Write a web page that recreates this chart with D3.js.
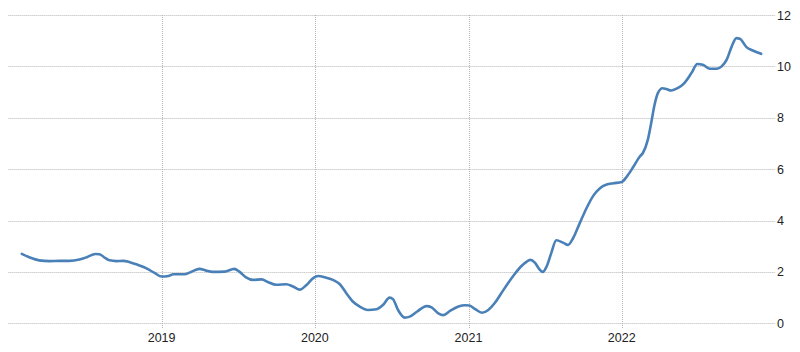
<!DOCTYPE html>
<html>
<head>
<meta charset="utf-8">
<script src="https://cdn.jsdelivr.net/npm/d3@7"></script>
<style>
  html, body { margin: 0; padding: 0; background: #fff; }
  svg { display: block; }
</style>
</head>
<body>
<svg id="chart" width="800" height="352"></svg>
<script>
const dates = [
  "2018-02-02","2018-02-21","2018-03-15","2018-04-09","2018-05-02","2018-05-26","2018-06-19","2018-07-08",
  "2018-07-27","2018-08-06","2018-08-18","2018-08-30","2018-09-15","2018-10-01","2018-10-17","2018-11-06",
  "2018-11-26","2018-12-16","2019-01-01","2019-01-17","2019-01-29","2019-02-24","2019-03-12","2019-04-01",
  "2019-04-17","2019-05-02","2019-05-31","2019-06-23","2019-07-05","2019-07-21","2019-08-06","2019-08-27",
  "2019-09-11","2019-10-01","2019-10-25","2019-11-10","2019-11-26","2019-12-12","2019-12-28","2020-01-09",
  "2020-01-25","2020-02-13","2020-02-29","2020-03-16","2020-04-01","2020-04-17","2020-05-06","2020-05-27",
  "2020-06-11","2020-06-27","2020-07-05","2020-07-17","2020-08-02","2020-08-14","2020-08-31","2020-09-23",
  "2020-10-05","2020-10-21","2020-11-02","2020-11-18","2020-12-08","2020-12-24","2021-01-03","2021-01-17",
  "2021-02-02","2021-02-17","2021-03-04","2021-03-20","2021-04-05","2021-04-21","2021-05-06","2021-05-18",
  "2021-05-28","2021-06-08","2021-06-19","2021-06-27","2021-07-06","2021-07-17","2021-07-29","2021-08-14",
  "2021-08-26","2021-09-07","2021-09-23","2021-10-09","2021-10-25","2021-11-10","2021-11-26","2021-12-12",
  "2022-01-01","2022-01-13","2022-01-29","2022-02-13","2022-02-20","2022-03-04","2022-03-12","2022-03-20",
  "2022-03-28","2022-04-08","2022-04-17","2022-04-29","2022-05-14","2022-05-30","2022-06-16","2022-06-30",
  "2022-07-13","2022-07-30","2022-08-15","2022-08-27","2022-09-08","2022-09-20","2022-10-01","2022-10-09",
  "2022-10-25","2022-11-09","2022-11-29"
];
const values = [
  2.70,2.56,2.45,2.42,2.43,2.43,2.48,2.58,
  2.70,2.69,2.56,2.45,2.42,2.43,2.38,2.27,
  2.14,1.95,1.82,1.84,1.91,1.91,2.00,2.12,
  2.05,2.00,2.01,2.12,2.01,1.79,1.69,1.71,
  1.61,1.50,1.52,1.43,1.31,1.49,1.76,1.84,
  1.79,1.69,1.53,1.17,0.84,0.65,0.52,0.55,
  0.71,1.00,0.94,0.52,0.22,0.26,0.45,0.67,
  0.62,0.39,0.32,0.48,0.65,0.70,0.69,0.55,
  0.41,0.52,0.78,1.17,1.56,1.92,2.21,2.38,
  2.47,2.36,2.10,2.00,2.21,2.73,3.23,3.14,
  3.05,3.31,3.90,4.48,4.96,5.26,5.40,5.45,
  5.50,5.71,6.10,6.49,6.62,7.14,7.79,8.50,
  8.96,9.15,9.12,9.06,9.15,9.35,9.74,10.09,
  10.06,9.91,9.91,10.00,10.26,10.78,11.10,11.08,
  10.75,10.62,10.49
];
const yTicks = [0, 2, 4, 6, 8, 10, 12];
const xTickYears = ["2019", "2020", "2021", "2022"];

const parse = d3.timeParse("%Y-%m-%d");
const data = dates.map((d, i) => ({ date: parse(d), value: values[i] }));

const svg = d3.select("#chart");
const plotLeft = 8.4, plotRight = 775, plotTop = 15, plotBottom = 323.3;

const x = d3.scaleTime()
  .domain([parse("2018-01-01"), parse("2023-01-01")])
  .range([plotLeft, plotRight]);
const y = d3.scaleLinear().domain([0, 12]).range([plotBottom, plotTop]);

const gridColor = "#b4b4b4";

// horizontal grid
svg.append("g").selectAll("line").data(yTicks).join("line")
  .attr("x1", plotLeft).attr("x2", plotRight)
  .attr("y1", d => Math.round(y(d)) + 0.5).attr("y2", d => Math.round(y(d)) + 0.5)
  .attr("stroke", gridColor).attr("stroke-width", 1)
  .attr("stroke-dasharray", "1,1");

// vertical grid
const yearDates = xTickYears.map(s => parse(s + "-01-01"));
svg.append("g").selectAll("line").data(yearDates).join("line")
  .attr("x1", d => Math.round(x(d)) + 0.5).attr("x2", d => Math.round(x(d)) + 0.5)
  .attr("y1", plotTop).attr("y2", 329)
  .attr("stroke", gridColor).attr("stroke-width", 1)
  .attr("stroke-dasharray", "1,1");

// y labels (right)
svg.append("g").selectAll("text").data(yTicks).join("text")
  .attr("x", 777).attr("y", d => y(d))
  .attr("dy", "0.36em")
  .attr("text-anchor", "start")
  .attr("font-family", "Liberation Sans, Arial, sans-serif")
  .attr("font-size", 12.5)
  .attr("fill", "#222")
  .text(d => d);

// x labels
svg.append("g").selectAll("text").data(yearDates).join("text")
  .attr("x", d => x(d)).attr("y", 342)
  .attr("text-anchor", "middle")
  .attr("font-family", "Liberation Sans, Arial, sans-serif")
  .attr("font-size", 12.5)
  .attr("fill", "#222")
  .text(d => d3.timeFormat("%Y")(d));

// line
const line = d3.line()
  .x(d => x(d.date))
  .y(d => y(d.value))
  .curve(d3.curveMonotoneX);

svg.append("path").datum(data)
  .attr("d", line)
  .attr("fill", "none")
  .attr("stroke", "#4a80b8")
  .attr("stroke-width", 2.6)
  .attr("stroke-linejoin", "round")
  .attr("stroke-linecap", "round");
</script>
</body>
</html>
